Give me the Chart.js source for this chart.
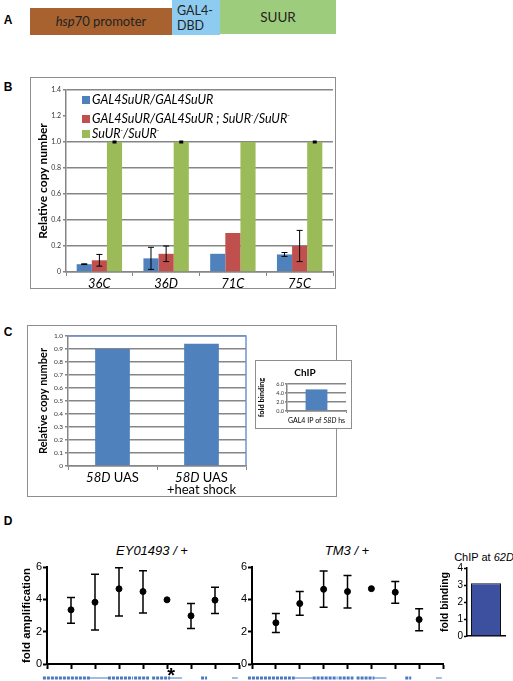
<!DOCTYPE html>
<html>
<head>
<meta charset="utf-8">
<script src="https://cdn.jsdelivr.net/npm/chart.js@4.4.0/dist/chart.umd.min.js"></script>
<style>
  body { margin: 0; width: 513px; height: 681px; position: relative; overflow: hidden; background: #fff; font-family: 'Liberation Sans', Arial, sans-serif; }
  .c { position: absolute; transform: translate(-50%, -50%); white-space: nowrap; }
  .frame { position: absolute; box-sizing: border-box; border: 1.5px solid #8e8e8e; background: #fff; }
  .letter { font-weight: bold; font-size: 12px; }
  .blk { position: absolute; box-sizing: border-box; font-family: Lato, sans-serif; color: #222; }
  .leg { position: absolute; left: 82px; font-family: Lato, sans-serif; font-style: italic; font-size: 12.5px; line-height: 14px; white-space: nowrap; }
  .leg span.sw { display: inline-block; width: 8px; height: 8px; margin-right: 2px; vertical-align: 0px; }
  .leg sup { font-size: 7px; }
  canvas { position: absolute; }
</style>
</head>
<body>

<!-- A -->
<div class="c letter" style="left:8px;top:20px">A</div>
<div class="blk" style="left:30px;top:8px;width:142px;height:27px;background:#a8622f;font-size:13px;line-height:27px;text-align:center"><i>hsp</i>70 promoter</div>
<div class="blk" style="left:172px;top:0;width:48px;height:35px;background:#8ecbf1;font-size:12.5px;line-height:15px;padding:3px 0 0 5px">GAL4-<br>DBD</div>
<div class="blk" style="left:220px;top:0;width:116px;height:34px;background:#9dcc7c;font-size:13.5px;line-height:34px;text-align:center">SUUR</div>

<!-- B -->
<div class="c letter" style="left:8px;top:87px">B</div>
<div class="frame" style="left:30px;top:77px;width:306px;height:212px"></div>
<canvas id="cB" width="306" height="212" style="left:30px;top:77px"></canvas>
<div class="leg" style="top:93px"><span class="sw" style="background:#4f81bd"></span>GAL4SuUR/GAL4SuUR</div>
<div class="leg" style="top:108px"><span class="sw" style="background:#c0504d"></span>GAL4SuUR/GAL4SuUR ; SuUR<sup>-</sup>/SuUR<sup>-</sup></div>
<div class="leg" style="top:123px"><span class="sw" style="background:#9bbb59"></span>SuUR<sup>-</sup>/SuUR<sup>-</sup></div>

<!-- C -->
<div class="c letter" style="left:8px;top:332px">C</div>
<div class="frame" style="left:27px;top:325px;width:310px;height:172px"></div>
<canvas id="cC" width="310" height="172" style="left:27px;top:325px"></canvas>
<div class="frame" style="left:255px;top:360px;width:97px;height:69px"></div>
<canvas id="cChip" width="97" height="69" style="left:255px;top:360px"></canvas>
<div class="c" style="left:305px;top:372px;font-family:Lato,sans-serif;font-weight:bold;font-size:10px">ChIP</div>

<!-- D -->
<div class="c letter" style="left:8px;top:521px">D</div>
<div class="c" style="left:152px;top:550px;font-size:13px;font-style:italic">EY01493 / +</div>
<div class="c" style="left:347px;top:550px;font-size:13px;font-style:italic">TM3 / +</div>
<div class="c" style="left:484px;top:557px;font-size:11px">ChIP at <i>62D</i></div>
<canvas id="cEY" width="250" height="141" style="left:0;top:540px"></canvas>
<canvas id="cTM" width="224" height="141" style="left:226px;top:540px"></canvas>
<canvas id="c62" width="83" height="110" style="left:430px;top:540px"></canvas>

<script>
// ---- data B: relative copy number ----
const bCats = ['36C', '36D', '71C', '75C'];
const bBlue = [0.06, 0.105, 0.14, 0.135];
const bRed = [0.09, 0.14, 0.30, 0.20];
const bGreen = [1, 1, 1, 1];
const bBlueErr = [0.003, 0.085, 0, 0.015];
const bRedErr = [0.045, 0.06, 0, 0.12];
const bGreenErr = [0.003, 0.003, 0, 0.003];

// ---- data C (underscores = italic part) ----
const cCats = [['_58D_ UAS'], ['_58D_ UAS', '+heat shock']];
const cVals = [0.90, 0.94];
const chipCats = ['GAL4 IP of _58D_ hs'];
const chipVals = [4.8];

// ---- data D: fold amplification per probe ----
const dPos = [1, 2, 3, 4, 5, 6, 7];
const eyMean = [3.35, 3.82, 4.65, 4.48, 3.97, 2.98, 3.95];
const eyLo = [2.52, 2.10, 2.97, 3.15, null, 2.20, 3.13];
const eyHi = [4.12, 5.55, 5.95, 5.77, null, 3.74, 4.74];
const tmMean = [2.55, 3.74, 4.62, 4.48, 4.66, 4.44, 2.75];
const tmLo = [1.95, 3.02, 3.51, 3.47, null, 3.76, 2.05];
const tmHi = [3.12, 4.48, 5.75, 5.48, null, 5.11, 3.41];
const chip62Cats = ['62D'];
const chip62Vals = [3.1];
// gene track under the axis (probe units): start, end, kind
const geneSegs = [[-0.17, 1.79, 'exon'], [1.79, 2.54, 'intron'], [2.54, 3.58, 'exon'], [3.63, 4.25, 'exon'],
                  [4.38, 5.13, 'exon'], [5.13, 5.63, 'intron'], [6.42, 6.67, 'exon'], [7.71, 7.95, 'intron']];
const eyStar = 5.17;

const GRID = '#868686';
const fitW = w => s => { s.width = w; };
const fitH = h => s => { s.height = h; };
const lohi = (vals, err, sign) => vals.map((v, i) => err[i] ? v + sign * err[i] : null);

// error bars from dataset.errLo / errHi
Chart.register({
  id: 'errorBars',
  afterDatasetsDraw(chart) {
    const ctx = chart.ctx, ys = chart.scales.y;
    chart.data.datasets.forEach((ds, i) => {
      if (!ds.errLo) return;
      ctx.save();
      ctx.strokeStyle = '#000'; ctx.lineWidth = ds.errWidth || 1;
      chart.getDatasetMeta(i).data.forEach((el, j) => {
        if (ds.errLo[j] == null) return;
        const y0 = ys.getPixelForValue(ds.errLo[j]), y1 = ys.getPixelForValue(ds.errHi[j]), c = ds.errCap || 3;
        ctx.beginPath();
        ctx.moveTo(el.x, y0); ctx.lineTo(el.x, y1);
        ctx.moveTo(el.x - c, y0); ctx.lineTo(el.x + c, y0);
        ctx.moveTo(el.x - c, y1); ctx.lineTo(el.x + c, y1);
        ctx.stroke();
      });
      ctx.restore();
    });
  }
});

function drawRich(ctx, str, x, y, font) {
  const parts = str.split('_').map((t, i) => [t, i % 2 === 1]);
  let w = 0;
  parts.forEach(p => { ctx.font = (p[1] ? 'italic ' : '') + font; w += ctx.measureText(p[0]).width; });
  let cx = x - w / 2;
  parts.forEach(p => { ctx.font = (p[1] ? 'italic ' : '') + font; ctx.fillText(p[0], cx, y); cx += ctx.measureText(p[0]).width; });
}
// x labels with italic pieces
const richTicks = (labels, font, gap, lh) => ({
  id: 'richTicks',
  afterDraw(chart) {
    const ctx = chart.ctx, xs = chart.scales.x;
    ctx.save(); ctx.fillStyle = '#000'; ctx.textAlign = 'left'; ctx.textBaseline = 'middle';
    labels.forEach((lab, i) => {
      [].concat(lab).forEach((ln, k) => drawRich(ctx, ln, xs.getPixelForValue(i), chart.chartArea.bottom + gap + k * lh, font));
    });
    ctx.restore();
  }
});
const plainLabels = arr => arr.map(l => [].concat(l).join(' ').replace(/_/g, ''));

// excel plot area edge (top + right) in blue
const plotEdge = {
  id: 'plotEdge',
  afterDatasetsDraw(chart) {
    const { left, right, top, bottom } = chart.chartArea, ctx = chart.ctx;
    ctx.save(); ctx.strokeStyle = '#7196cc'; ctx.lineWidth = 1.5;
    ctx.beginPath(); ctx.moveTo(left, top); ctx.lineTo(right, top); ctx.lineTo(right, bottom); ctx.stroke();
    ctx.restore();
  }
};

const geneTrack = star => ({
  id: 'geneTrack',
  afterDraw(chart) {
    const xs = chart.scales.x, ctx = chart.ctx, y = chart.chartArea.bottom + 14;
    ctx.save(); ctx.strokeStyle = '#4a78c2';
    geneSegs.forEach(([a, b, kind]) => {
      ctx.lineWidth = kind === 'exon' ? 3 : 1;
      ctx.setLineDash(kind === 'exon' ? [3, 1] : []);
      ctx.beginPath(); ctx.moveTo(xs.getPixelForValue(a), y); ctx.lineTo(xs.getPixelForValue(b), y); ctx.stroke();
    });
    if (star != null) {
      ctx.setLineDash([]); ctx.fillStyle = '#000'; ctx.font = 'bold 20px "Liberation Sans"';
      ctx.textAlign = 'center'; ctx.textBaseline = 'top';
      ctx.fillText('*', xs.getPixelForValue(star), chart.chartArea.bottom + 2);
    }
    ctx.restore();
  }
});

const base = { responsive: false, animation: false, events: [], plugins: { legend: { display: false }, tooltip: { enabled: false } } };

// ===== B =====
new Chart(document.getElementById('cB'), {
  type: 'bar',
  data: {
    labels: bCats,
    datasets: [
      { data: bBlue, backgroundColor: '#4f81bd', errLo: lohi(bBlue, bBlueErr, -1), errHi: lohi(bBlue, bBlueErr, 1) },
      { data: bRed, backgroundColor: '#c0504d', errLo: lohi(bRed, bRedErr, -1), errHi: lohi(bRed, bRedErr, 1) },
      { data: bGreen, backgroundColor: '#9bbb59', errLo: lohi(bGreen, bGreenErr, -1), errHi: lohi(bGreen, bGreenErr, 1), errCap: 2, errWidth: 2 }
    ]
  },
  options: {
    ...base,
    layout: { padding: { top: 13, right: 3 } },
    datasets: { bar: { categoryPercentage: 0.68, barPercentage: 1 } },
    scales: {
      x: {
        grid: { drawOnChartArea: false, tickLength: 4, color: GRID },
        border: { color: GRID, width: 1.5 },
        ticks: { font: { family: 'Lato', size: 13, style: 'italic' }, color: '#000', padding: 0 },
        afterFit: fitH(17)
      },
      y: {
        min: 0, max: 1.4,
        ticks: { stepSize: 0.2, autoSkip: false, font: { family: 'Lato', size: 7 }, color: '#333', padding: 2 },
        grid: { color: c => (c.tick && Math.abs(c.tick.value - 1.2) < 1e-6) ? 'rgba(0,0,0,0)' : GRID, tickColor: GRID, lineWidth: 1.5, tickLength: 3 },
        border: { color: GRID, width: 1.5 },
        title: { display: true, text: 'Relative copy number', font: { family: 'Lato', size: 12, weight: 'bold' }, color: '#000', padding: { top: 6, bottom: 0 } },
        afterFit: fitW(36)
      }
    }
  }
});

// ===== C =====
new Chart(document.getElementById('cC'), {
  type: 'bar',
  data: { labels: plainLabels(cCats), datasets: [{ data: cVals, backgroundColor: '#4f81bd' }] },
  options: {
    ...base,
    layout: { padding: { top: 11, right: 91 } },
    datasets: { bar: { categoryPercentage: 1, barPercentage: 0.39 } },
    scales: {
      x: {
        ticks: { display: false },
        grid: { drawOnChartArea: false, tickLength: 4, color: GRID },
        border: { color: GRID, width: 1.5 },
        afterFit: fitH(31)
      },
      y: {
        min: 0, max: 1,
        ticks: { stepSize: 0.1, autoSkip: false, font: { family: 'Lato', size: 6.5 }, color: '#333', padding: 2 },
        grid: { color: GRID, lineWidth: 1.5, tickLength: 3 },
        border: { color: GRID, width: 1.5 },
        title: { display: true, text: 'Relative copy number', font: { family: 'Lato', size: 11, weight: 'bold' }, color: '#000', padding: { top: 9.5, bottom: 0 } },
        afterFit: fitW(41)
      }
    }
  },
  plugins: [plotEdge, richTicks(cCats, '13px Lato', 12, 12)]
});

new Chart(document.getElementById('cChip'), {
  type: 'bar',
  data: { labels: plainLabels(chipCats), datasets: [{ data: chipVals, backgroundColor: '#4f81bd' }] },
  options: {
    ...base,
    layout: { padding: { top: 24, right: 6 } },
    datasets: { bar: { categoryPercentage: 1, barPercentage: 0.37 } },
    scales: {
      x: {
        ticks: { display: false },
        grid: { drawOnChartArea: false, tickLength: 2, color: GRID },
        border: { color: GRID, width: 1.5 },
        afterFit: fitH(18)
      },
      y: {
        min: 0, max: 6,
        ticks: { stepSize: 2, autoSkip: false, font: { family: 'Lato', size: 5.5 }, color: '#333', padding: 1, callback: v => v.toFixed(1) },
        grid: { color: GRID, lineWidth: 1.5, tickLength: 2 },
        border: { color: GRID, width: 1.5 },
        title: { display: true, text: 'fold binding', font: { family: 'Lato', size: 7.5, weight: 'bold' }, color: '#000', padding: { top: 2.5, bottom: 0 } },
        afterFit: fitW(32)
      }
    }
  },
  plugins: [richTicks(chipCats, '7px Lato', 10, 8)]
});

// ===== D =====
const dAxes = (yw, title) => ({
  x: {
    type: 'linear', min: 0, max: 8,
    ticks: { display: false, stepSize: 1 },
    grid: { drawOnChartArea: false, tickLength: 5, tickWidth: 2, tickColor: '#000' },
    border: { color: '#000', width: 2 },
    afterFit: fitH(17)
  },
  y: {
    min: 0, max: 6,
    ticks: { stepSize: 2, font: { family: 'Liberation Sans', size: 11 }, color: '#000', padding: 1 },
    grid: { drawOnChartArea: false, tickLength: 4, tickWidth: 2, tickColor: '#000' },
    border: { color: '#000', width: 2 },
    title: { display: !!title, text: title || '', font: { family: 'Liberation Sans', size: 11.5, weight: 'bold' }, color: '#000', padding: { top: 20, bottom: 0 } },
    afterFit: fitW(yw)
  }
});
const dSet = (mean, lo, hi) => ({
  data: dPos.map((x, i) => ({ x, y: mean[i] })),
  pointRadius: 3, backgroundColor: '#000', borderColor: '#000',
  errLo: lo, errHi: hi, errCap: 4, errWidth: 1.5
});

new Chart(document.getElementById('cEY'), {
  type: 'scatter',
  data: { datasets: [dSet(eyMean, eyLo, eyHi)] },
  options: { ...base, layout: { padding: { top: 27, right: 11 } }, scales: dAxes(47, 'fold amplification') },
  plugins: [geneTrack(eyStar)]
});

new Chart(document.getElementById('cTM'), {
  type: 'scatter',
  data: { datasets: [dSet(tmMean, tmLo, tmHi)] },
  options: { ...base, layout: { padding: { top: 27, right: 7 } }, scales: dAxes(26, null) },
  plugins: [geneTrack(null)]
});

new Chart(document.getElementById('c62'), {
  type: 'bar',
  data: { labels: chip62Cats, datasets: [{ data: chip62Vals, backgroundColor: '#3d4f9f', borderColor: '#111', borderWidth: 1 }] },
  options: {
    ...base,
    layout: { padding: { top: 28, right: 8 } },
    datasets: { bar: { categoryPercentage: 1, barPercentage: 0.79 } },
    scales: {
      x: { ticks: { display: false }, grid: { display: false }, border: { color: '#000', width: 1.5 }, afterFit: fitH(14) },
      y: {
        min: 0, max: 4,
        ticks: { stepSize: 1, autoSkip: false, font: { family: 'Liberation Sans', size: 10 }, color: '#000', padding: 1 },
        grid: { drawOnChartArea: false, tickLength: 3, tickWidth: 1.5, tickColor: '#000' },
        border: { color: '#000', width: 1.5 },
        title: { display: true, text: 'fold binding', font: { family: 'Liberation Sans', size: 10.5, weight: 'bold' }, color: '#000', padding: { top: 8.7, bottom: 0 } },
        afterFit: fitW(37)
      }
    }
  }
});
</script>
</body>
</html>
